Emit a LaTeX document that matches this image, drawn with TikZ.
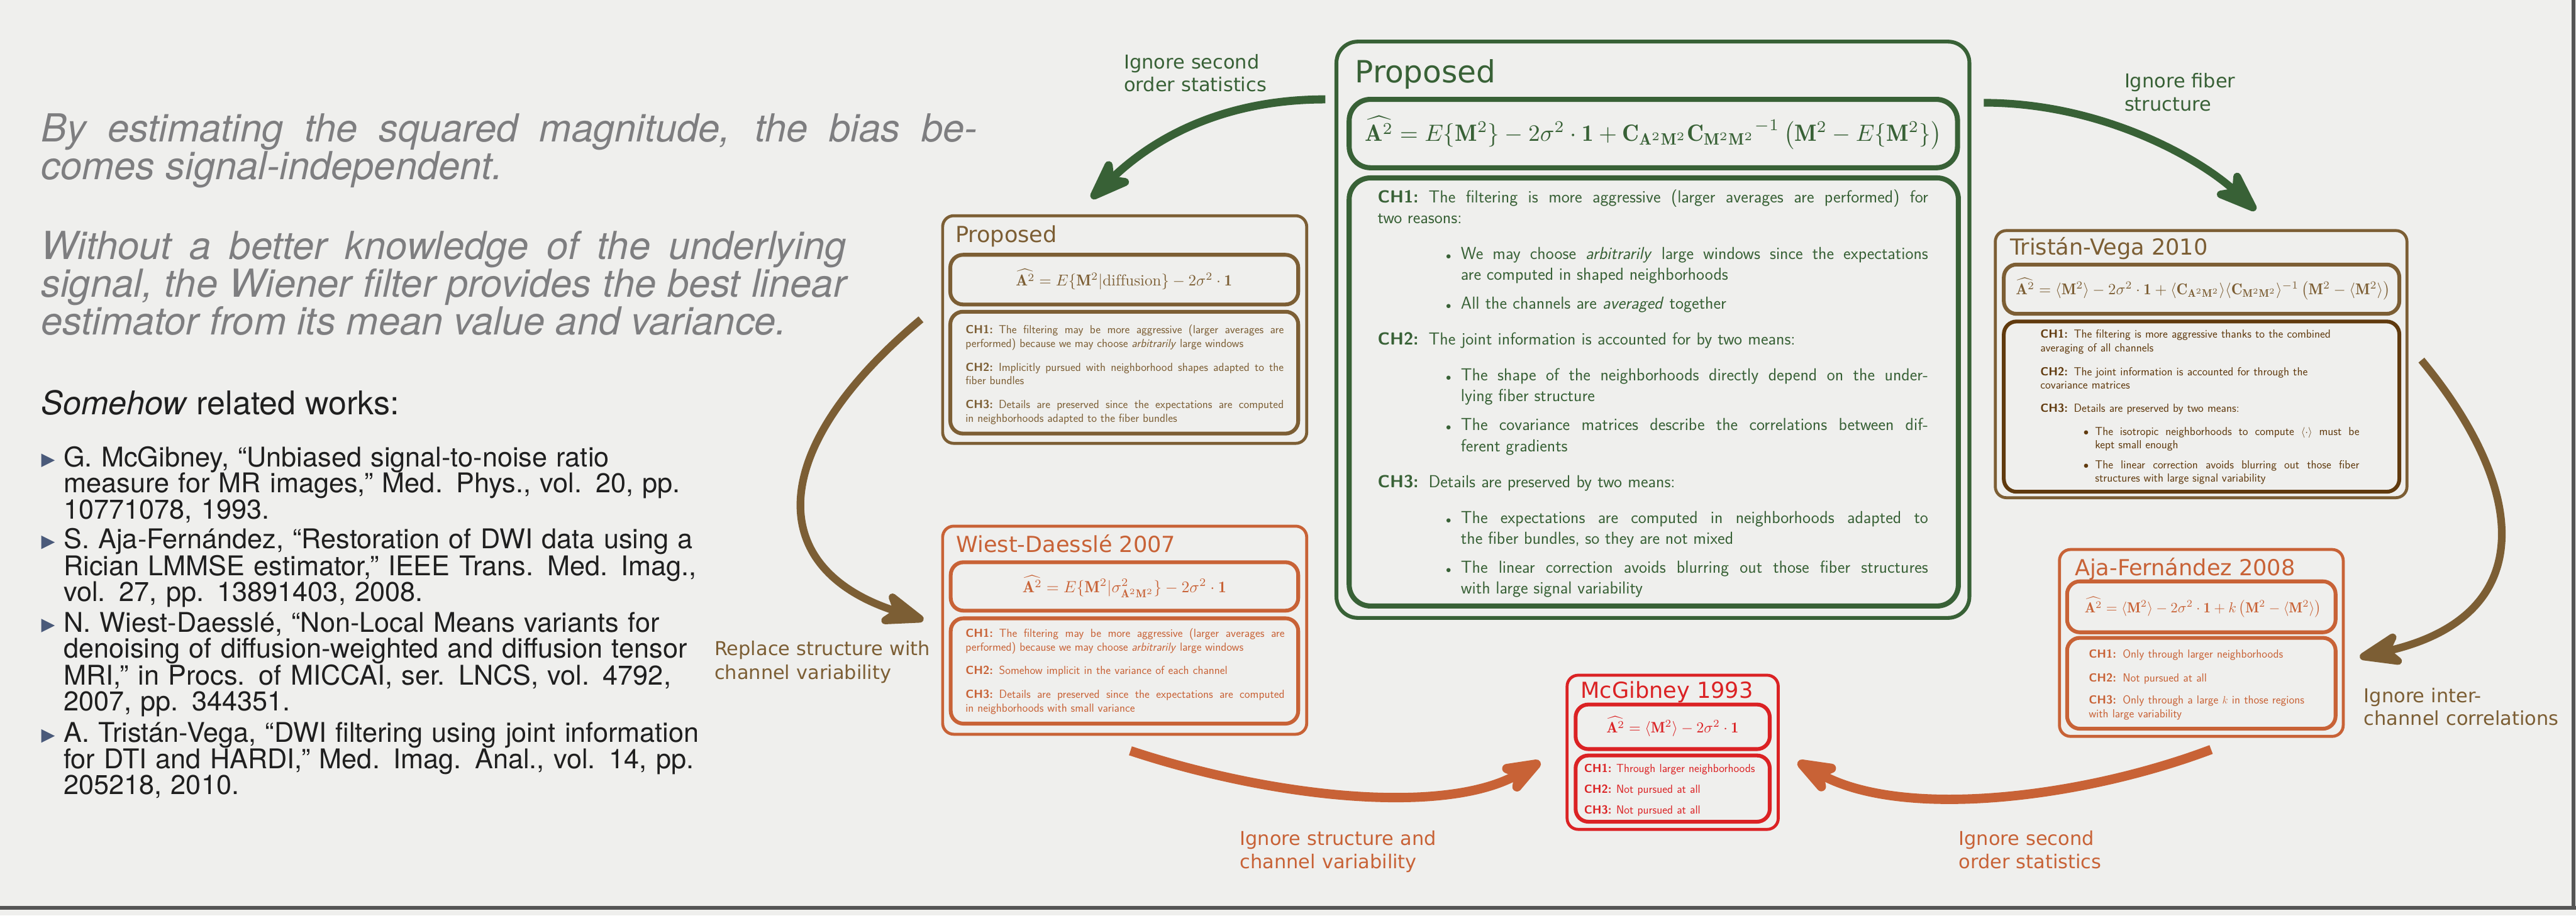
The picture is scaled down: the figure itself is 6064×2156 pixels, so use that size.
\documentclass[tikz,border=0pt]{standalone}
\usepackage{amsmath}
\usepackage{graphicx}
\usepackage{fontspec}
\usetikzlibrary{arrows.meta}
\newfontfamily\dejavu{DejaVu Sans}
\newfontfamily\heros{TeX Gyre Heros}
\definecolor{cgreen}{RGB}{56,97,54}
\definecolor{cbrown}{RGB}{124,94,52}
\definecolor{cdbrown}{RGB}{96,58,14}
\definecolor{corange}{RGB}{200,98,54}
\definecolor{cred}{RGB}{219,34,36}
\definecolor{cgrey}{RGB}{126,126,128}
\definecolor{cbg}{RGB}{239,239,237}
\definecolor{cbul}{RGB}{74,90,122}
\definecolor{cframe}{RGB}{85,85,85}
\newcommand\chpar[4]{\hangindent=#2\relax\hangafter=1\relax\makebox[#1][l]{\bfseries #3}#4}
\newcommand\gbul{\llap{$\bullet$\hspace{23pt}}}
\newcommand\sbul{\llap{$\bullet$\hspace{15pt}}}
\newcommand\myAh{\widehat{\mathbf{A}^2}}
\newcommand\myMq{\mathbf{M}^2}
\begin{document}
\begin{tikzpicture}[x=1pt,y=-1pt,
  every node/.style={inner sep=0pt, outer sep=0pt},
  obox/.style={draw=#1, line width=7pt, rounded corners=26pt},
  ibox/.style={draw=#1, line width=9pt, rounded corners=30pt},
  gobox/.style={draw=cgreen, line width=9pt, rounded corners=50pt},
  gibox/.style={draw=cgreen, line width=12pt, rounded corners=50pt},
  arr/.style={line width=#1, -{Stealth[length=128pt,width=94pt,inset=36pt,round]}},
  gtext/.style={text=cgreen, font=\sffamily\fontsize{41}{49}\selectfont, anchor=base west},
  stext/.style={text=#1, font=\sffamily\fontsize{27.5}{32}\selectfont, anchor=base west},
  ttl/.style={text=#1, font=\dejavu\fontsize{52}{60}\selectfont, anchor=base west},
  fml/.style={text=#1, anchor=base},
  lab/.style={text=#1, font=\dejavu\fontsize{45}{54}\selectfont, anchor=base west, align=left, text width=700pt},
  lpara/.style={text=cgrey, font=\heros\itshape\fontsize{91}{89}\selectfont, anchor=base west, align=justify},
  reftext/.style={text=black!88, font=\heros\fontsize{64}{61.5}\selectfont, anchor=base west, align=left, text width=1800pt},
]
\useasboundingbox (0,0) rectangle (6064,2156);
\fill[cbg] (0,0) rectangle (6064,2156);
\fill[cframe] (0,2134) rectangle (6064,2142);
\fill[cframe] (6054,0) rectangle (6062,2142);

% ---------- left column ----------
\node[lpara, text width=2204pt] (p1) at (97,334) {By estimating the squared magnitude, the bias be-\linebreak comes signal-independent.};
\node[lpara, text width=1895pt] (p2) at (97,611) {Without a better knowledge of the underlying\linebreak signal, the Wiener filter provides the best linear\linebreak estimator from its mean value and variance.};
\node[anchor=base west, text=black!88, font=\heros\fontsize{77}{80}\selectfont] (sw) at (97,976) {\textit{Somehow} related works:};

\foreach \b in {1099,1292,1488,1748} \fill[cbul] (97,\b-31) -- (129,\b-15) -- (97,\b+1) -- cycle;
\node[reftext] (r1) at (150,1099) {G. McGibney, “Unbiased signal-to-noise ratio\\measure for MR images,” Med. Phys., vol. 20, pp.\\10771078, 1993.};
\node[reftext] (r2) at (150,1292) {S. Aja-Fernández, “Restoration of DWI data using a\\Rician LMMSE estimator,” IEEE Trans. Med. Imag.,\\vol. 27, pp. 13891403, 2008.};
\node[reftext] (r3) at (150,1488) {N. Wiest-Daesslé, “Non-Local Means variants for\\denoising of diffusion-weighted and diffusion tensor\\MRI,” in Procs. of MICCAI, ser. LNCS, vol. 4792,\\2007, pp. 344351.};
\node[reftext] (r4) at (150,1748) {A. Tristán-Vega, “DWI filtering using joint information\\for DTI and HARDI,” Med. Imag. Anal., vol. 14, pp.\\205218, 2010.};

% ---------- green: Proposed ----------
\node[gobox, minimum width=1490pt, minimum height=1357pt] (G) at (3891,776.5) {};
\node[gibox, minimum width=1432pt, minimum height=161pt] (Gf) at (3892,314.5) {};
\node[gibox, minimum width=1434pt, minimum height=1008pt] (Gc) at (3893,923) {};
\node[ttl=cgreen, font=\dejavu\fontsize{72}{80}\selectfont] (Gt) at (3190,195) {Proposed};
\node[fml=cgreen] (Gm) at (3892,332) {\resizebox{1357pt}{!}{$\myAh = E\{\myMq\} - 2\sigma^2\cdot\mathbf{1} + \mathbf{C}_{\mathbf{A}^2\mathbf{M}^2}{\mathbf{C}_{\mathbf{M}^2\mathbf{M}^2}}^{-1}\left(\myMq - E\{\myMq\}\right)$}};
\node[gtext, text width=1296pt, align=justify] (g1) at (3243,477) {\chpar{120pt}{104pt}{CH1:}{The filtering is more aggressive (larger averages are performed) for\linebreak two reasons:}};
\node[gtext, text width=1100pt, align=justify] (g1a) at (3439,611) {\gbul We may choose \textit{arbitrarily} large windows since the expectations\linebreak are computed in shaped neighborhoods};
\node[gtext, text width=1100pt, align=left] (g1b) at (3439,727) {\gbul All the channels are \textit{averaged} together};
\node[gtext, text width=1296pt, align=left] (g2) at (3243,812) {\chpar{120pt}{104pt}{CH2:}{The joint information is accounted for by two means:}};
\node[gtext, text width=1100pt, align=justify] (g2a) at (3439,896) {\gbul The shape of the neighborhoods directly depend on the under-\linebreak lying fiber structure};
\node[gtext, text width=1100pt, align=justify] (g2b) at (3439,1014) {\gbul The covariance matrices describe the correlations between dif-\linebreak ferent gradients};
\node[gtext, text width=1296pt, align=left] (g3) at (3243,1148) {\chpar{120pt}{104pt}{CH3:}{Details are preserved by two means:}};
\node[gtext, text width=1100pt, align=justify] (g3a) at (3439,1233) {\gbul The expectations are computed in neighborhoods adapted to\linebreak the fiber bundles, so they are not mixed};
\node[gtext, text width=1100pt, align=justify] (g3b) at (3439,1350) {\gbul The linear correction avoids blurring out those fiber structures\linebreak with large signal variability};

% ---------- brown: Proposed (diffusion) ----------
\node[obox=cbrown, minimum width=857pt, minimum height=536pt] (P) at (2647.5,776) {};
\node[ibox=cbrown, minimum width=819pt, minimum height=117pt] (Pf) at (2646.5,658.5) {};
\node[ibox=cbrown, minimum width=819pt, minimum height=287pt] (Pc) at (2646.5,877.5) {};
\node[ttl=cbrown] (Pt) at (2249,571) {Proposed};
\node[fml=cbrown] (Pm) at (2646,673) {\resizebox{509pt}{!}{$\myAh = E\{\myMq|\mathrm{diffusion}\} - 2\sigma^2\cdot\mathbf{1}$}};
\node[stext=cbrown, text width=749pt, align=justify] (p1c) at (2273,786) {\chpar{78pt}{68pt}{CH1:}{The filtering may be more aggressive (larger averages are\linebreak performed) because we may choose \textit{arbitrarily} large windows}};
\node[stext=cbrown, text width=749pt, align=justify] (p2c) at (2273,874) {\chpar{78pt}{68pt}{CH2:}{Implicitly pursued with neighborhood shapes adapted to the\linebreak fiber bundles}};
\node[stext=cbrown, text width=749pt, align=justify] (p3c) at (2273,962) {\chpar{78pt}{68pt}{CH3:}{Details are preserved since the expectations are computed\linebreak in neighborhoods adapted to the fiber bundles}};

% ---------- orange: Wiest-Daessle ----------
\node[obox=corange, minimum width=857pt, minimum height=490pt] (W) at (2647.5,1484) {};
\node[ibox=corange, minimum width=818pt, minimum height=114pt] (Wf) at (2647,1381) {};
\node[ibox=corange, minimum width=818pt, minimum height=248pt] (Wc) at (2647,1580) {};
\node[ttl=corange] (Wt) at (2251,1300) {Wiest-Daesslé 2007};
\node[fml=corange] (Wm) at (2647,1395) {\resizebox{480pt}{!}{$\myAh = E\{\myMq|\sigma^2_{\mathbf{A}^2\mathbf{M}^2}\} - 2\sigma^2\cdot\mathbf{1}$}};
\node[stext=corange, text width=751pt, align=justify] (w1c) at (2273,1501) {\chpar{79pt}{68pt}{CH1:}{The filtering may be more aggressive (larger averages are\linebreak performed) because we may choose \textit{arbitrarily} large windows}};
\node[stext=corange, text width=751pt, align=left] (w2c) at (2273,1588) {\chpar{79pt}{68pt}{CH2:}{Somehow implicit in the variance of each channel}};
\node[stext=corange, text width=751pt, align=justify] (w3c) at (2273,1644) {\chpar{79pt}{68pt}{CH3:}{Details are preserved since the expectations are computed\linebreak in neighborhoods with small variance}};

% ---------- brown: Tristan-Vega ----------
\node[obox=cbrown, minimum width=969pt, minimum height=629pt] (T) at (5181.5,857.5) {};
\node[ibox=cbrown, minimum width=931pt, minimum height=116pt] (Tf) at (5182.5,681) {};
\node[ibox=cdbrown, minimum width=931pt, minimum height=401pt] (Tc) at (5182.5,957.5) {};
\node[ttl=cbrown] (Tt) at (4732,600) {Tristán-Vega 2010};
\node[fml=cbrown] (Tm) at (5186,693) {\resizebox{881pt}{!}{$\myAh = \langle\myMq\rangle - 2\sigma^2\cdot\mathbf{1} + \langle\mathbf{C}_{\mathbf{A}^2\mathbf{M}^2}\rangle\langle\mathbf{C}_{\mathbf{M}^2\mathbf{M}^2}\rangle^{-1}\left(\myMq - \langle\myMq\rangle\right)$}};
\node[stext=cdbrown, text width=751pt, align=left] (t1c) at (4803,796) {\chpar{79pt}{68pt}{CH1:}{The filtering is more aggressive thanks to the combined\linebreak averaging of all channels}};
\node[stext=cdbrown, text width=751pt, align=left] (t2c) at (4803,884) {\chpar{79pt}{68pt}{CH2:}{The joint information is accounted for through the\linebreak covariance matrices}};
\node[stext=cdbrown, text width=751pt, align=left] (t3c) at (4803,970) {\chpar{79pt}{68pt}{CH3:}{Details are preserved by two means:}};
\node[stext=cdbrown, text width=622pt, align=justify] (t3a) at (4932,1025) {\sbul The isotropic neighborhoods to compute $\langle\cdot\rangle$ must be\linebreak kept small enough};
\node[stext=cdbrown, text width=622pt, align=justify] (t3b) at (4932,1103) {\sbul The linear correction avoids blurring out those fiber\linebreak structures with large signal variability};

% ---------- orange: Aja-Fernandez ----------
\node[obox=corange, minimum width=668pt, minimum height=440pt] (A) at (5182,1514) {};
\node[ibox=corange, minimum width=632pt, minimum height=120pt] (Af) at (5182,1429) {};
\node[ibox=corange, minimum width=632pt, minimum height=214pt] (Ac) at (5182,1609) {};
\node[ttl=corange] (At) at (4884,1355) {Aja-Fernández 2008};
\node[fml=corange] (Am) at (5186,1442) {\resizebox{557pt}{!}{$\myAh = \langle\myMq\rangle - 2\sigma^2\cdot\mathbf{1} + k\left(\myMq - \langle\myMq\rangle\right)$}};
\node[stext=corange, text width=560pt, align=left] (a1c) at (4917,1550) {\chpar{80pt}{69pt}{CH1:}{Only through larger neighborhoods}};
\node[stext=corange, text width=560pt, align=left] (a2c) at (4917,1605) {\chpar{80pt}{69pt}{CH2:}{Not pursued at all}};
\node[stext=corange, text width=560pt, align=left] (a3c) at (4917,1658) {\chpar{80pt}{69pt}{CH3:}{Only through a large $k$ in those regions\linebreak with large variability}};

% ---------- red: McGibney ----------
\node[obox=cred, minimum width=497pt, minimum height=363pt] (M) at (3937.5,1771.5) {};
\node[ibox=cred, minimum width=457pt, minimum height=105pt] (Mf) at (3937.5,1711.5) {};
\node[ibox=cred, minimum width=457pt, minimum height=156pt] (Mc) at (3937.5,1857) {};
\node[ttl=cred] (Mt) at (3721,1644) {McGibney 1993};
\node[fml=cred] (Mm) at (3937,1725) {\resizebox{311pt}{!}{$\myAh = \langle\myMq\rangle - 2\sigma^2\cdot\mathbf{1}$}};
\node[stext=cred, text width=440pt, align=left] (m1c) at (3729,1818) {\chpar{76pt}{69pt}{CH1:}{Through larger neighborhoods}};
\node[stext=cred, text width=440pt, align=left] (m2c) at (3729,1868) {\chpar{76pt}{69pt}{CH2:}{Not pursued at all}};
\node[stext=cred, text width=440pt, align=left] (m3c) at (3729,1917) {\chpar{76pt}{69pt}{CH3:}{Not pursued at all}};

% ---------- arrow labels ----------
\node[lab=cgreen] (l1) at (2646,162) {Ignore second\\order statistics};
\node[lab=cgreen] (l2) at (5001,207) {Ignore fiber\\structure};
\node[lab=cbrown, font=\dejavu\fontsize{45}{56}\selectfont] (l3) at (1682,1544) {Replace structure with\\channel variability};
\node[lab=cbrown] (l4) at (5565,1654) {Ignore inter-\\channel correlations};
\node[lab=corange] (l5) at (2919,1991) {Ignore structure and\\channel variability};
\node[lab=corange] (l6) at (4611,1991) {Ignore second\\order statistics};

% ---------- arrows ----------
\coordinate (a1s) at (3120,234);  \coordinate (a1e) at (2569,467);
\coordinate (a2s) at (4670,242);  \coordinate (a2e) at (5310,495);
\coordinate (a3s) at (2168,752);  \coordinate (a3e) at (2174,1460);
\coordinate (a4s) at (5700,848);  \coordinate (a4e) at (5555,1548);
\coordinate (a5s) at (2661,1768); \coordinate (a5e) at (3626,1794);
\coordinate (a6s) at (5205,1765); \coordinate (a6e) at (4232,1794);
\draw[arr=19pt, cgreen] (a1s) .. controls (2860,234) and (2700,340) .. (a1e);
\draw[arr=18pt, cgreen] (a2s) .. controls (4950,242) and (5180,375) .. (a2e);
\draw[arr=18pt, cbrown] (a3s) .. controls (1800,1060) and (1800,1340) .. (a3e);
\draw[arr=18pt, cbrown] (a4s) .. controls (5950,1150) and (5980,1450) .. (a4e);
\draw[arr=22pt, corange] (a5s) .. controls (3000,1880) and (3400,1920) .. (a5e);
\draw[arr=22pt, corange] (a6s) .. controls (4900,1880) and (4480,1930) .. (a6e);
\end{tikzpicture}
\end{document}
